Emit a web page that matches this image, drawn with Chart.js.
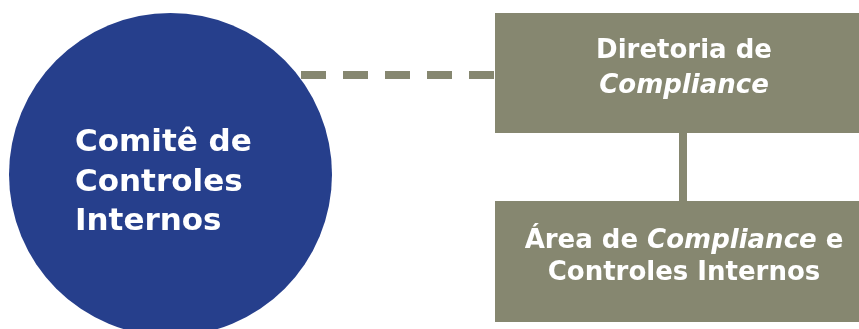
<!DOCTYPE html>
<html>
<head>
<meta charset="utf-8">
<script src="https://cdn.jsdelivr.net/npm/chart.js@4/dist/chart.umd.min.js"></script>
<style>
  html, body { margin: 0; padding: 0; background: #ffffff; }
  #wrap { width: 859px; height: 329px; }
</style>
</head>
<body>
<div id="wrap"><canvas id="c" width="859" height="329"></canvas></div>
<script>
// ---- diagram data (in the chart's own coordinate units: 0..859 × 0..329) ----
const nodeNames   = ["Comitê de Controles Internos", "Diretoria de Compliance", "Área de Compliance e Controles Internos"];

// circle node
const circleX = [170.5];
const circleY = [174.5];
const circleR = [161.5];

// dashed link circle -> top box
const dashX = [301, 495];
const dashY = [75, 75];

// solid link top box -> bottom box
const stemX = [683, 683];
const stemY = [133, 201];

// boxes
const boxLeft   = [495, 495];
const boxRight  = [859, 859];
const boxTop    = [13, 201];
const boxBottom = [133, 322];

// labels: each line is a list of [text, italic] runs
const circleLines = [
  [["Comitê de", false]],
  [["Controles", false]],
  [["Internos", false]]
];
const boxLines = [
  [ [["Diretoria de", false]], [["Compliance", true]] ],
  [ [["Área de ", false], ["Compliance", true], [" e", false]], [["Controles Internos", false]] ]
];

// ---- styling / layout ----
const BLUE = "#263f8c";
const OLIVE = "#868770";
const FONT = "'DejaVu Sans', sans-serif";
const circleText = { x: 75, baselines: [151, 191, 230], size: 31, align: "left" };
const boxText = [
  { x: 684, baselines: [58.3, 92.7], size: 26, align: "center" },
  { x: 684, baselines: [247.7, 280], size: 26, align: "center" }
];

const xyPairs = (xs, ys) => xs.map((x, i) => ({ x, y: ys[i] }));

const datasets = [];
// boxes (line along the top edge, filled down to the bottom edge)
boxTop.forEach((t, i) => {
  datasets.push({
    type: "line",
    label: nodeNames[i + 1],
    data: [{ x: boxLeft[i], y: t }, { x: boxRight[i], y: t }],
    borderWidth: 0,
    borderColor: "rgba(0,0,0,0)",
    backgroundColor: OLIVE,
    pointRadius: 0,
    fill: { value: boxBottom[i] },
    order: 3
  });
});
// dashed connector
datasets.push({
  type: "line",
  label: "link1",
  data: xyPairs(dashX, dashY),
  borderColor: OLIVE,
  borderWidth: 8,
  borderDash: [25, 17],
  borderCapStyle: "butt",
  pointRadius: 0,
  fill: false,
  order: 2
});
// vertical connector
datasets.push({
  type: "line",
  label: "link2",
  data: xyPairs(stemX, stemY),
  borderColor: OLIVE,
  borderWidth: 8,
  borderCapStyle: "butt",
  pointRadius: 0,
  fill: false,
  order: 2
});
// circle node
datasets.push({
  type: "scatter",
  label: nodeNames[0],
  data: xyPairs(circleX, circleY),
  backgroundColor: BLUE,
  borderWidth: 0,
  pointStyle: "circle",
  pointRadius: (ctx) => {
    const s = ctx.chart.scales && ctx.chart.scales.x;
    if (!s) return circleR[0];
    return s.getPixelForValue(circleR[ctx.dataIndex]) - s.getPixelForValue(0);
  },
  clip: false,
  order: 1
});

function drawRuns(ctx, runs, x, y, size, align) {
  const fontOf = (it) => (it ? "italic " : "") + "bold " + size + "px " + FONT;
  let total = 0;
  runs.forEach(([t, it]) => { ctx.font = fontOf(it); total += ctx.measureText(t).width; });
  let cx = align === "center" ? x - total / 2 : x;
  ctx.textAlign = "left";
  ctx.textBaseline = "alphabetic";
  runs.forEach(([t, it]) => {
    ctx.font = fontOf(it);
    ctx.fillText(t, cx, y);
    cx += ctx.measureText(t).width;
  });
}

const labelPlugin = {
  id: "nodeLabels",
  afterDatasetsDraw(chart) {
    const ctx = chart.ctx;
    const sx = chart.scales.x, sy = chart.scales.y;
    ctx.save();
    ctx.fillStyle = "#ffffff";
    circleLines.forEach((runs, i) => {
      drawRuns(ctx, runs, sx.getPixelForValue(circleText.x), sy.getPixelForValue(circleText.baselines[i]), circleText.size, circleText.align);
    });
    boxLines.forEach((lines, b) => {
      const cfg = boxText[b];
      lines.forEach((runs, i) => {
        drawRuns(ctx, runs, sx.getPixelForValue(cfg.x), sy.getPixelForValue(cfg.baselines[i]), cfg.size, cfg.align);
      });
    });
    ctx.restore();
  }
};

new Chart(document.getElementById("c"), {
  type: "scatter",
  data: { datasets },
  options: {
    responsive: false,
    devicePixelRatio: 1,
    animation: false,
    events: [],
    layout: { padding: 0 },
    scales: {
      x: { type: "linear", min: 0, max: 859, display: false },
      y: { type: "linear", min: 0, max: 329, reverse: true, display: false }
    },
    plugins: { legend: { display: false }, tooltip: { enabled: false } }
  },
  plugins: [labelPlugin]
});
</script>
</body>
</html>
